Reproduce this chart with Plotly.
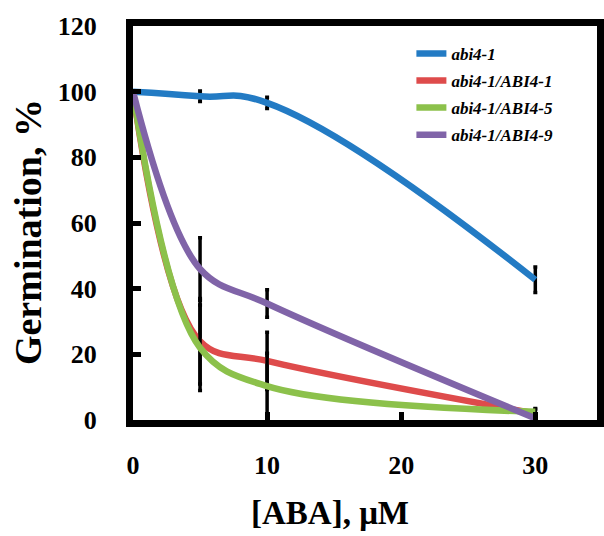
import plotly.graph_objects as go

# ABA concentration (µM)
aba_conc = [0, 5, 10, 30]

# Germination (%) per line
abi4_1 = [100, 98.6, 96.6, 42.7]
abi4_1_err = [0, 1.6, 1.7, 3.9]

abi4_1_ABI4_1 = [100, 24.0, 18.0, 2.0]
abi4_1_ABI4_1_err = [0, 13.0, 8.7, 1.3]

abi4_1_ABI4_5 = [100, 22.0, 10.3, 2.5]
abi4_1_ABI4_5_err = [0, 13.0, 10.0, 1.0]

abi4_1_ABI4_9 = [100, 46.0, 35.5, 0.5]
abi4_1_ABI4_9_err = [0, 9.5, 4.2, 0.5]

series_names = ["abi4-1", "abi4-1/ABI4-1", "abi4-1/ABI4-5", "abi4-1/ABI4-9"]
series_values = [abi4_1, abi4_1_ABI4_1, abi4_1_ABI4_5, abi4_1_ABI4_9]
series_errors = [abi4_1_err, abi4_1_ABI4_1_err, abi4_1_ABI4_5_err, abi4_1_ABI4_9_err]
series_colors = ["#237bc4", "#de4b4b", "#8cc14b", "#8064a8"]
series_smoothing = [1.3, 1, 1, 1]

x_ticks = [0, 10, 20, 30]
y_ticks = [0, 20, 40, 60, 80, 100, 120]

x_title = "[ABA], μM"
y_title = "Germination, %"

FONT = "Liberation Serif, Times New Roman, serif"

fig = go.Figure()
for name, vals, errs, col, sm in zip(series_names, series_values, series_errors,
                                     series_colors, series_smoothing):
    fig.add_trace(go.Scatter(
        x=aba_conc, y=vals, mode="lines", name=name, legendgroup=name,
        line=dict(color=col, width=6.5, shape="spline", smoothing=sm),
        error_y=dict(type="data", array=errs, visible=True,
                     color="black", thickness=3.5, width=2),
    ))

axis_common = dict(
    showline=True, linewidth=7, linecolor="black", mirror=True,
    showgrid=False, zeroline=False,
    ticks="inside", tickcolor="black", tickwidth=5, ticklen=8,
    tickfont=dict(family=FONT, size=26, color="black", weight="bold"),
)

fig.update_layout(
    width=604, height=536,
    margin=dict(l=133, r=0, t=26, b=116),
    paper_bgcolor="white", plot_bgcolor="white",
    xaxis=dict(range=[0, 34.6], tickvals=x_ticks, ticklabelstandoff=16, **axis_common),
    yaxis=dict(range=[0, 120], tickvals=y_ticks, ticklabelstandoff=24, **axis_common),
    legend=dict(x=0.6, y=0.975, xanchor="left", yanchor="top",
                bgcolor="rgba(0,0,0,0)", tracegroupgap=2,
                font=dict(family=FONT, size=17, color="black", weight="bold", style="italic")),
    showlegend=True,
    annotations=[
        dict(text=x_title, xref="paper", yref="paper", x=0.425, y=-0.235,
             xanchor="center", yanchor="middle", showarrow=False,
             font=dict(family=FONT, size=33, color="black", weight="bold")),
        dict(text=y_title, xref="paper", yref="paper", x=-0.225, y=0.476,
             xanchor="center", yanchor="middle", showarrow=False, textangle=-90,
             font=dict(family=FONT, size=38, color="black", weight="bold")),
    ],
)

fig.write_html("out.html")
